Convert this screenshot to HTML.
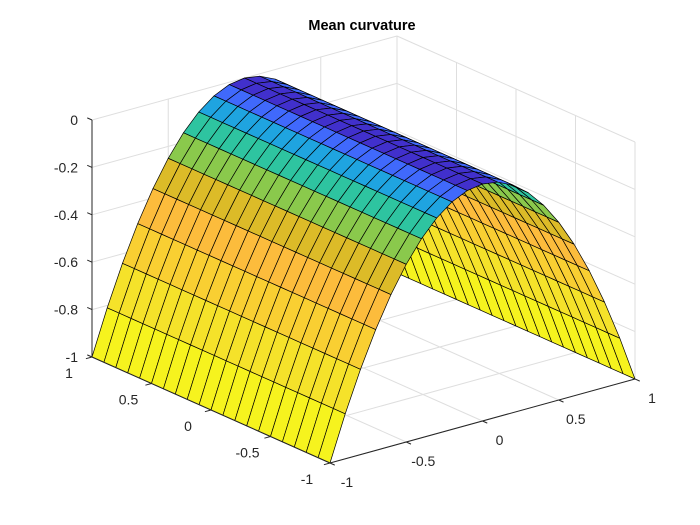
<!DOCTYPE html>
<html><head><meta charset="utf-8"><style>
html,body{margin:0;padding:0;background:#fff}
svg{display:block}
text{font-family:"Liberation Sans",Arial,sans-serif;font-size:14px;fill:#262626}
</style></head><body>
<svg id="chart" width="700" height="525" viewBox="0 0 700 525">
<text x="362" y="30" text-anchor="middle" style="font-weight:bold;font-size:14.5px;fill:#000">Mean curvature</text>
<g id="grid"></g>
<g id="surf"></g>
<g id="axes"></g>
</svg>
<script>
const uVals = [1,0.9,0.8,0.7,0.6,0.5,0.4,0.3,0.2,0.1,0,-0.1,-0.2,-0.3,-0.4,-0.5,-0.6,-0.7,-0.8,-0.9,-1];
const profileV = [-1,-0.9,-0.8,-0.7,-0.6,-0.5,-0.4,-0.3,-0.2,-0.1,0,0.1,0.2,0.3,0.4,0.5,0.6,0.7,0.8,0.9,1];
const profileZ = [-1,-0.81,-0.64,-0.49,-0.36,-0.25,-0.16,-0.09,-0.04,-0.01,0,-0.01,-0.04,-0.09,-0.16,-0.25,-0.36,-0.49,-0.64,-0.81,-1];
const rowColors = ['#f6f31e','#f5e22a','#f9cf32','#fcbc3c','#dcbb28','#8ac94c','#2ec4a0','#1fa4e0','#4069fc','#4130cc'];
const uTicks = [1,0.5,0,-0.5,-1];
const uTickLabels = ['1','0.5','0','-0.5','-1'];
const vTicks = [-1,-0.5,0,0.5,1];
const vTickLabels = ['-1','-0.5','0','0.5','1'];
const zTicks = [0,-0.2,-0.4,-0.6,-0.8,-1];
const zTickLabels = ['0','-0.2','-0.4','-0.6','-0.8','-1'];

const NS='http://www.w3.org/2000/svg';
const O=[330,463], EU=[-119,-53], EV=[152.5,-42], SZ=237;
function P(u,v,z){return [O[0]+(u+1)*EU[0]+(v+1)*EV[0], O[1]+(u+1)*EU[1]+(v+1)*EV[1]-(z+1)*SZ];}
function depth(u,v,z){return -92.7*u-73.6*v+136.8*z;}
function line(g,a,b,stroke,w,name){
  const l=document.createElementNS(NS,'line');
  l.setAttribute('x1',a[0]);l.setAttribute('y1',a[1]);l.setAttribute('x2',b[0]);l.setAttribute('y2',b[1]);
  l.setAttribute('stroke',stroke);l.setAttribute('stroke-width',w);
  
  
  g.appendChild(l);
}
function text(g,x,y,s,anchor,name){
  const t=document.createElementNS(NS,'text');
  t.setAttribute('x',x);t.setAttribute('y',y);t.setAttribute('text-anchor',anchor);t.textContent=s;
  
  
  g.appendChild(t);
}
const grid=document.getElementById('grid'), gc='#dedede';
zTicks.forEach(z=>{
  line(grid,P(1,-1,z),P(1,1,z),gc,1,'grid-line');
  line(grid,P(1,1,z),P(-1,1,z),gc,1,'grid-line');
});
vTicks.forEach(v=>{
  line(grid,P(1,v,-1),P(1,v,0),gc,1,'grid-line');
  line(grid,P(1,v,-1),P(-1,v,-1),gc,1,'grid-line');
});
uTicks.forEach(u=>{
  line(grid,P(u,1,-1),P(u,1,0),gc,1,'grid-line');
  line(grid,P(u,-1,-1),P(u,1,-1),gc,1,'grid-line');
});
const surf=document.getElementById('surf');
const cells=[];
for(let i=0;i<uVals.length-1;i++){
  for(let k=0;k<profileV.length-1;k++){
    const u0=uVals[i],u1=uVals[i+1];
    const v0=profileV[k],v1=profileV[k+1],z0=profileZ[k],z1=profileZ[k+1];
    const pts=[P(u0,v0,z0),P(u1,v0,z0),P(u1,v1,z1),P(u0,v1,z1)];
    const d=depth((u0+u1)/2,(v0+v1)/2,(z0+z1)/2);
    cells.push({pts,d,c:rowColors[Math.min(k,profileV.length-2-k)]});
  }
}
cells.sort((a,b)=>a.d-b.d);
cells.forEach(c=>{
  const p=document.createElementNS(NS,'polygon');
  p.setAttribute('points',c.pts.map(q=>q[0].toFixed(2)+','+q[1].toFixed(2)).join(' '));
  p.setAttribute('fill',c.c);p.setAttribute('stroke','#000');p.setAttribute('stroke-width','0.7');
  p.setAttribute('stroke-linejoin','round');
  
  
  surf.appendChild(p);
});
const ax=document.getElementById('axes'), ac='#262626';
line(ax,P(1,-1,-1),P(1,-1,0),ac,1,'z-axis-line');
line(ax,P(1,-1,-1),P(-1,-1,-1),ac,1,'x-axis-line');
line(ax,P(-1,-1,-1),P(-1,1,-1),ac,1,'y-axis-line');
zTicks.forEach((z,i)=>{
  const p=P(1,-1,z);
  line(ax,p,[p[0]+EU[0]*0.04,p[1]+EU[1]*0.04],ac,1,'z-tick');
  text(ax,p[0]-14,p[1]+5,zTickLabels[i],'end','z-tick-label');
});
uTicks.forEach((u,i)=>{
  const p=P(u,-1,-1);
  line(ax,p,[p[0]-EV[0]*0.04,p[1]-EV[1]*0.04],ac,1,'x-tick');
  text(ax,p[0]-23,p[1]+21,uTickLabels[i],'middle','x-tick-label');
});
vTicks.forEach((v,i)=>{
  const p=P(-1,v,-1);
  line(ax,p,[p[0]-EU[0]*0.04,p[1]-EU[1]*0.04],ac,1,'y-tick');
  text(ax,p[0]+17,p[1]+24,vTickLabels[i],'middle','y-tick-label');
});
</script>
</body></html>
